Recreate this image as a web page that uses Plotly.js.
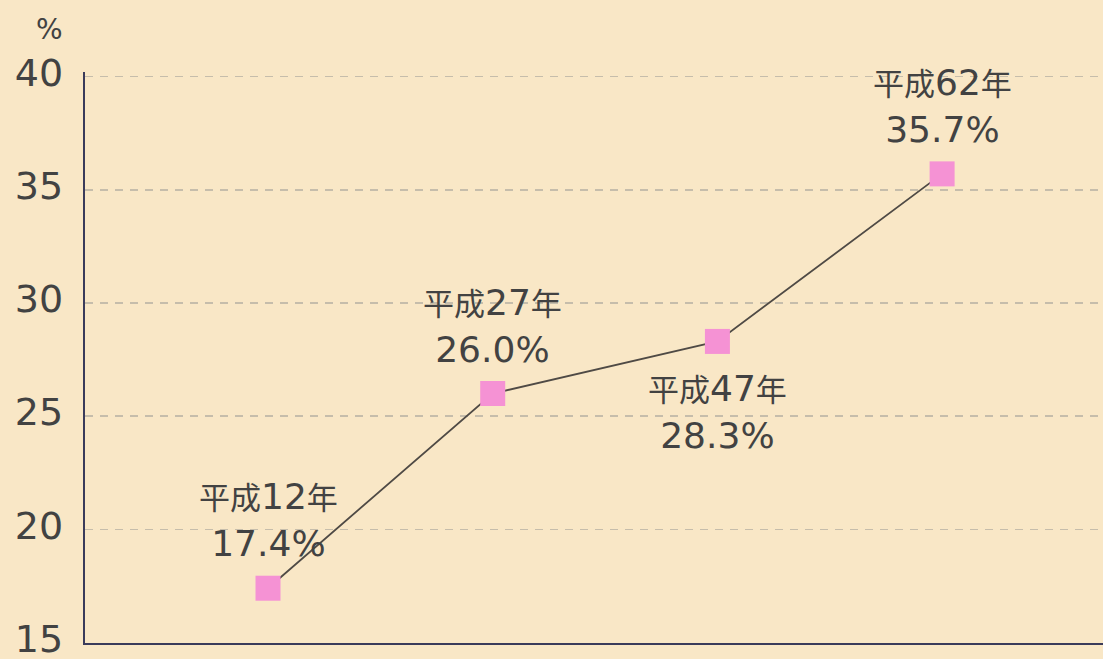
<!DOCTYPE html>
<html>
<head>
<meta charset="utf-8">
<script src="https://cdn.plot.ly/plotly-3.0.1.min.js"></script>
<style>html,body{margin:0;padding:0;background:#f9e7c6;}</style>
</head>
<body>
<div id="chart" style="width:1103px;height:659px;"></div>
<script>
const eraPrefix = "平成";
const yearNums = ["12", "27", "47", "62"];
const yearSuffix = "年";
const values = [17.4, 26.0, 28.3, 35.7];
const labelAbove = [true, true, false, true];
const yTicks = [15, 20, 25, 30, 35, 40];

const xs = yearNums.map((_, i) => i + 1);
const latin = "'DejaVu Sans', 'Noto Sans', sans-serif";

const trace = {
  x: xs, y: values, type: 'scatter', mode: 'lines+markers',
  line: {color: '#4f4a45', width: 1.8},
  marker: {symbol: 'square', size: 25, color: '#f592d4'},
  hoverinfo: 'skip'
};

function cj(s) {
  return '<span style="font-family:\'Noto Sans CJK JP\';font-size:31px">' + s + '</span>';
}

const annotations = yearNums.map((yr, i) => ({
  x: xs[i], y: values[i], xref: 'x', yref: 'y',
  text: cj(eraPrefix) + yr + cj(yearSuffix) + '<br>' + values[i].toFixed(1) + '%',
  showarrow: false,
  font: {family: latin, size: 36, color: '#424242'},
  xanchor: 'center',
  yanchor: labelAbove[i] ? 'bottom' : 'top',
  yshift: labelAbove[i] ? 22 : -22
}));
annotations.push({
  xref: 'paper', yref: 'paper', x: -0.035, y: 1.0, yshift: 24,
  text: '%', showarrow: false, xanchor: 'center', yanchor: 'bottom',
  font: {family: latin, size: 28, color: '#424242'}
});

const layout = {
  width: 1103, height: 659,
  margin: {l: 85, r: 0, t: 71.5, b: 15.5},
  paper_bgcolor: '#f9e7c6', plot_bgcolor: '#f9e7c6',
  showlegend: false,
  xaxis: {
    range: [0.1856, 4.716], showticklabels: false, showgrid: false,
    zeroline: false, showline: true, linecolor: '#3b3b5a', linewidth: 2.2,
    ticks: ''
  },
  yaxis: {
    range: [14.98, 40.2], tickvals: yTicks, ticktext: yTicks.map(String),
    showgrid: true, gridcolor: '#c6bdab', griddash: '8px,7px', gridwidth: 1.6,
    zeroline: false, showline: true, linecolor: '#3b3b5a', linewidth: 2.2,
    ticks: '', ticklabelstandoff: 12, ticklabelshift: -4, ticklabeloverflow: 'allow',
    tickfont: {family: latin, size: 38, color: '#424242'}
  },
  annotations: annotations
};

Plotly.newPlot('chart', [trace], layout, {displayModeBar: false, staticPlot: true});
</script>
</body>
</html>
